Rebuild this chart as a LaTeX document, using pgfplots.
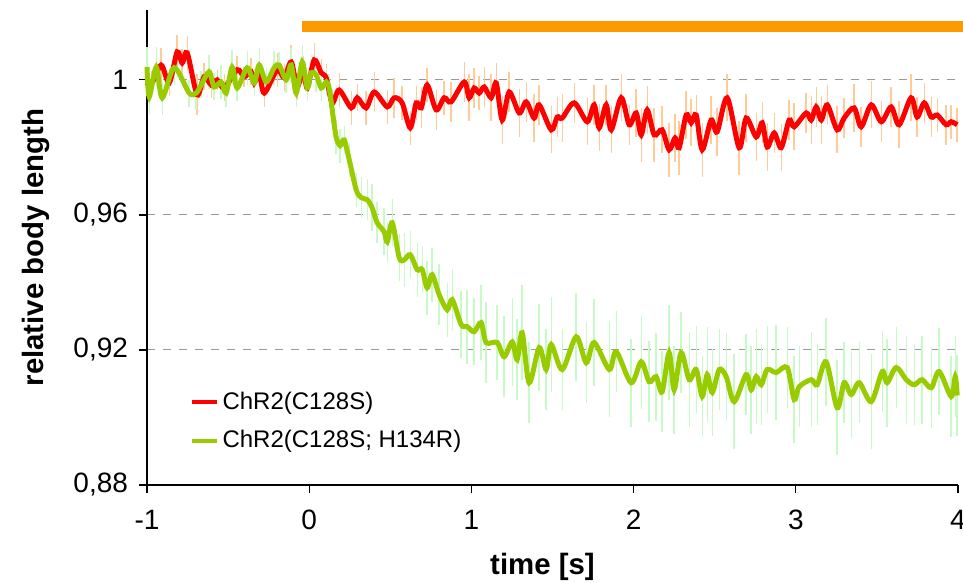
\documentclass[border=0pt]{standalone}
\usepackage{pgfplots}
\pgfplotsset{compat=1.18}
\usepackage{pgfplotstable}
\usepackage{fontspec}
\setmainfont{Liberation Sans}
\definecolor{redline}{HTML}{FF0000}
\definecolor{greenline}{HTML}{99CC00}
\definecolor{orangebar}{HTML}{FF9900}
\definecolor{rederr}{HTML}{FFCC99}
\definecolor{greenerr}{HTML}{C8FAC8}
\definecolor{gridgrey}{HTML}{999999}

\pgfplotstableread{
t v e
-1.000 0.9991 0.004
-0.974 0.9985 0.004
-0.913 1.0044 0.005
-0.863 0.9991 0.004
-0.814 1.0083 0.005
-0.783 1.0050 0.004
-0.752 1.0080 0.005
-0.691 0.9956 0.006
-0.648 1.0009 0.004
-0.604 0.9985 0.004
-0.567 1.0000 0.003
-0.524 0.9976 0.004
-0.444 1.0030 0.004
-0.401 1.0009 0.003
-0.358 1.0024 0.004
-0.339 0.9991 0.004
-0.308 1.0021 0.003
-0.277 0.9961 0.004
-0.197 1.0030 0.005
-0.154 1.0006 0.004
-0.111 1.0053 0.005
-0.074 0.9979 0.004
-0.037 1.0030 0.004
-0.012 0.9976 0.004
0.031 1.0059 0.005
0.074 1.0021 0.004
0.105 1.0006 0.004
0.142 0.9932 0.004
0.185 0.9970 0.005
0.259 0.9917 0.005
0.296 0.9947 0.004
0.351 0.9917 0.005
0.401 0.9964 0.006
0.481 0.9920 0.005
0.524 0.9947 0.006
0.573 0.9932 0.005
0.623 0.9858 0.005
0.660 0.9932 0.005
0.691 0.9917 0.006
0.727 0.9985 0.005
0.783 0.9911 0.006
0.832 0.9947 0.005
0.875 0.9935 0.006
0.956 0.9994 0.006
0.986 0.9947 0.007
1.017 0.9976 0.006
1.048 0.9961 0.005
1.079 0.9979 0.006
1.122 0.9947 0.007
1.153 0.9991 0.006
1.190 0.9881 0.007
1.233 0.9964 0.006
1.295 0.9902 0.007
1.338 0.9935 0.006
1.387 0.9887 0.007
1.418 0.9926 0.006
1.492 0.9852 0.007
1.529 0.9890 0.006
1.560 0.9887 0.007
1.634 0.9932 0.006
1.714 0.9876 0.007
1.757 0.9926 0.006
1.788 0.9858 0.007
1.831 0.9926 0.006
1.862 0.9852 0.007
1.924 0.9947 0.007
1.973 0.9867 0.006
2.016 0.9902 0.007
2.047 0.9837 0.008
2.084 0.9911 0.007
2.127 0.9837 0.008
2.176 0.9852 0.007
2.219 0.9793 0.008
2.256 0.9828 0.007
2.281 0.9799 0.008
2.324 0.9896 0.007
2.355 0.9873 0.007
2.386 0.9896 0.006
2.423 0.9793 0.008
2.478 0.9881 0.007
2.515 0.9846 0.007
2.577 0.9947 0.007
2.651 0.9799 0.008
2.694 0.9887 0.007
2.756 0.9831 0.007
2.793 0.9873 0.006
2.824 0.9801 0.007
2.867 0.9843 0.006
2.910 0.9799 0.007
2.959 0.9881 0.006
2.990 0.9861 0.007
3.064 0.9902 0.006
3.095 0.9881 0.007
3.126 0.9920 0.006
3.157 0.9881 0.007
3.194 0.9926 0.006
3.255 0.9852 0.007
3.298 0.9887 0.006
3.360 0.9917 0.007
3.403 0.9861 0.006
3.465 0.9926 0.007
3.527 0.9876 0.006
3.588 0.9920 0.006
3.637 0.9867 0.007
3.711 0.9947 0.007
3.748 0.9890 0.006
3.792 0.9932 0.006
3.835 0.9890 0.006
3.872 0.9896 0.005
3.927 0.9867 0.006
3.958 0.9876 0.005
3.995 0.9867 0.005
}\redtable

\pgfplotstableread{
t v e
-1.000 1.0038 0.006
-0.986 0.9950 0.005
-0.943 1.0038 0.006
-0.906 0.9947 0.005
-0.832 1.0036 0.005
-0.740 0.9961 0.004
-0.697 0.9961 0.005
-0.666 0.9985 0.004
-0.617 1.0024 0.005
-0.586 0.9979 0.004
-0.543 0.9994 0.005
-0.512 0.9961 0.004
-0.475 1.0038 0.005
-0.444 0.9976 0.004
-0.382 1.0036 0.005
-0.339 0.9991 0.004
-0.308 1.0044 0.005
-0.265 0.9994 0.004
-0.216 1.0036 0.005
-0.185 1.0044 0.004
-0.142 1.0000 0.004
-0.111 1.0044 0.005
-0.080 0.9961 0.004
-0.043 1.0053 0.005
-0.012 0.9976 0.004
0.012 1.0021 0.004
0.043 1.0015 0.005
0.074 0.9976 0.004
0.105 0.9994 0.004
0.123 0.9976 0.004
0.142 0.9911 0.004
0.166 0.9831 0.005
0.191 0.9805 0.005
0.216 0.9822 0.004
0.247 0.9763 0.005
0.290 0.9674 0.005
0.321 0.9651 0.006
0.358 0.9645 0.006
0.388 0.9621 0.007
0.419 0.9577 0.006
0.462 0.9550 0.007
0.481 0.9520 0.006
0.512 0.9577 0.007
0.555 0.9473 0.007
0.586 0.9467 0.008
0.623 0.9482 0.007
0.666 0.9438 0.008
0.697 0.9438 0.007
0.727 0.9384 0.008
0.758 0.9423 0.008
0.801 0.9364 0.009
0.851 0.9319 0.008
0.882 0.9349 0.009
0.937 0.9275 0.010
0.974 0.9269 0.011
1.017 0.9254 0.010
1.060 0.9281 0.011
1.091 0.9222 0.012
1.159 0.9222 0.011
1.202 0.9180 0.012
1.252 0.9224 0.013
1.282 0.9171 0.012
1.313 0.9251 0.014
1.356 0.9103 0.012
1.418 0.9207 0.013
1.461 0.9142 0.012
1.492 0.9216 0.014
1.560 0.9142 0.012
1.646 0.9239 0.013
1.708 0.9162 0.012
1.757 0.9222 0.013
1.850 0.9142 0.014
1.893 0.9195 0.012
1.985 0.9103 0.013
2.047 0.9165 0.014
2.096 0.9106 0.012
2.139 0.9121 0.013
2.176 0.9076 0.012
2.219 0.9192 0.014
2.250 0.9082 0.013
2.293 0.9192 0.012
2.343 0.9112 0.014
2.386 0.9142 0.013
2.423 0.9062 0.012
2.454 0.9127 0.014
2.485 0.9074 0.013
2.528 0.9142 0.012
2.571 0.9121 0.013
2.620 0.9047 0.014
2.694 0.9127 0.012
2.725 0.9082 0.013
2.756 0.9121 0.014
2.787 0.9097 0.012
2.824 0.9142 0.013
2.879 0.9133 0.014
2.947 0.9148 0.012
2.990 0.9053 0.013
3.021 0.9091 0.012
3.095 0.9112 0.014
3.132 0.9097 0.012
3.187 0.9165 0.013
3.255 0.9029 0.014
3.298 0.9103 0.012
3.342 0.9068 0.013
3.391 0.9103 0.012
3.465 0.9047 0.014
3.533 0.9136 0.012
3.563 0.9103 0.013
3.619 0.9148 0.012
3.681 0.9112 0.013
3.730 0.9097 0.012
3.779 0.9112 0.013
3.835 0.9088 0.012
3.884 0.9136 0.013
3.958 0.9062 0.012
3.983 0.9121 0.012
3.995 0.9065 0.012
}\greentable

\begin{document}
\begin{tikzpicture}
\useasboundingbox (-73.5pt,-49pt) rectangle (408pt,242.5pt);
\begin{axis}[
  at={(0,0)}, anchor=south west,
  scale only axis,
  width=405.5pt, height=237.5pt,
  xmin=-1, xmax=4,
  ymin=0.88, ymax=1.0207,
  clip=false,
  axis x line=bottom, axis y line=left,
  axis line style={-, black, line width=0.6pt},
  xtick={-1,0,1,2,3,4},
  ytick={0.88,0.92,0.96,1},
  tick align=outside,
  major tick length=4pt,
  tick style={black, line width=0.6pt},
  ymajorgrids,
  grid style={gridgrey, dash pattern=on 4pt off 4pt, line width=0.5pt},
  /pgf/number format/assume math mode=true,
  /pgf/number format/use comma,
  /pgf/number format/fixed,
  /pgf/number format/precision=2,
  yticklabel style={font=\fontsize{14}{16}\selectfont, xshift=-2pt},
  xticklabel style={font=\fontsize{14}{16}\selectfont, yshift=-5pt},
  xlabel={time [s]},
  ylabel={relative body length},
  xlabel style={font=\fontsize{14.7}{17}\selectfont\bfseries, yshift=-5pt, xshift=-5pt},
  ylabel style={font=\fontsize{14.7}{17}\selectfont\bfseries, yshift=5pt},
  legend style={at={(rel axis cs:0.052,0.205)}, anchor=north west, draw=none, fill=none,
    font=\fontsize{12}{14}\selectfont, row sep=5pt, inner sep=0pt},
  legend cell align=left,
  legend image code/.code={\draw[#1, line width=2pt] (0pt,0pt) -- (12.5pt,0pt);},
]
% error bars
\addplot[draw=none, no markers, forget plot,
  error bars/.cd, y dir=both, y explicit, error mark=none,
  error bar style={draw=rederr, line width=0.7pt}]
  table[x=t, y=v, y error=e] {\redtable};
\addplot[draw=none, no markers, forget plot,
  error bars/.cd, y dir=both, y explicit, error mark=none,
  error bar style={draw=greenerr, line width=0.7pt}]
  table[x=t, y=v, y error=e] {\greentable};
% stimulus bar
\addplot[orangebar, line width=5.5pt, forget plot] coordinates {(-0.045,1.0157) (4.03,1.0157)};
% lines
\addplot[redline, line width=2.5pt, no markers, smooth, tension=0.5] table[x=t, y=v] {\redtable};
\addlegendentry{ChR2(C128S)}
\addplot[greenline, line width=2.5pt, no markers, smooth, tension=0.5] table[x=t, y=v] {\greentable};
\addlegendentry{ChR2(C128S; H134R)}
\end{axis}
\end{tikzpicture}
\end{document}
